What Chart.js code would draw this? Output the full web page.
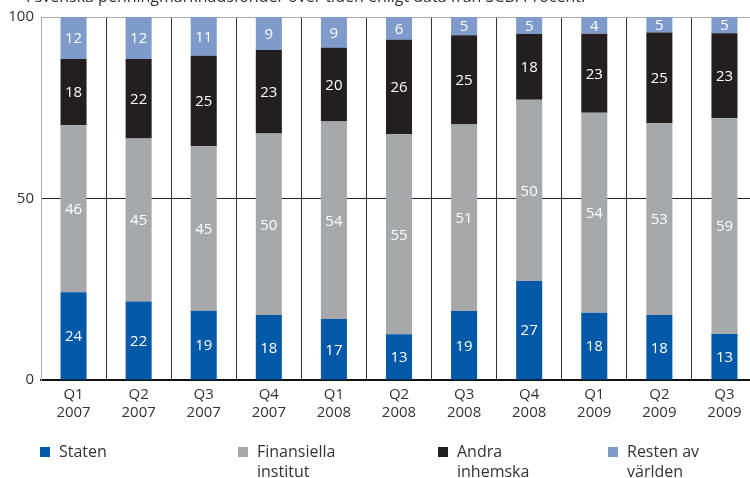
<!DOCTYPE html>
<html>
<head>
<meta charset="utf-8">
<script src="https://cdn.jsdelivr.net/npm/chart.js@4/dist/chart.umd.min.js"></script>
<style>
  html, body { margin: 0; padding: 0; background: #fff; }
  body { width: 750px; height: 478px; overflow: hidden; position: relative; font-family: "Open Sans", sans-serif; color: #333; }
  #wrap { position: absolute; left: 0; top: 0; width: 770px; height: 478px; }
  #title { position: absolute; left: 26px; top: -13px; font-size: 16px; line-height: 18px; white-space: nowrap; color: #333; }
  .leg { position: absolute; top: 441px; font-size: 16px; line-height: 20px; color: #333; }
  .leg i { position: absolute; left: -19px; top: 6px; width: 10px; height: 10px; }
</style>
</head>
<body>
<div id="wrap"><canvas id="c" width="770" height="478"></canvas></div>
<div id="title">I svenska penningmarknadsfonder över tiden enligt data från SCB. Procent.</div>
<div id="legend"></div>
<script>
const categories = [["Q1","2007"],["Q2","2007"],["Q3","2007"],["Q4","2007"],["Q1","2008"],["Q2","2008"],["Q3","2008"],["Q4","2008"],["Q1","2009"],["Q2","2009"],["Q3","2009"]];
const seriesNames = [["Staten"],["Finansiella","institut"],["Andra","inhemska"],["Resten av","världen"]];
// bar heights
const staten      = [24.2, 21.6, 19.1, 17.9, 16.8, 12.6, 19.0, 27.3, 18.5, 17.9, 12.7];
const finansiella = [46.0, 44.9, 45.3, 50.0, 54.4, 55.1, 51.4, 49.9, 55.1, 52.8, 59.4];
const andra       = [18.2, 21.9, 24.9, 23.0, 20.3, 26.0, 24.6, 18.1, 21.8, 25.0, 23.4];
const resten      = [11.6, 11.6, 10.7,  9.1,  8.5,  6.3,  5.0,  4.7,  4.6,  4.3,  4.5];
// printed labels
const statenLabels      = [24, 22, 19, 18, 17, 13, 19, 27, 18, 18, 13];
const finansiellaLabels = [46, 45, 45, 50, 54, 55, 51, 50, 54, 53, 59];
const andraLabels       = [18, 22, 25, 23, 20, 26, 25, 18, 23, 25, 23];
const restenLabels      = [12, 12, 11,  9,  9,  6,  5,  5,  4,  5,  5];
const yTicks = [0, 50, 100];

const colors = ["#0159A8", "#A7A8AC", "#231F20", "#7E9BCC"];
const values = [staten, finansiella, andra, resten];
const labels = [statenLabels, finansiellaLabels, andraLabels, restenLabels];

const dataLabelPlugin = {
  id: 'segLabels',
  afterDatasetsDraw(chart) {
    const ctx = chart.ctx;
    ctx.save();
    ctx.fillStyle = '#fff';
    ctx.font = '15px "Open Sans", sans-serif';
    ctx.textAlign = 'center';
    ctx.textBaseline = 'middle';
    chart.data.datasets.forEach((ds, di) => {
      const meta = chart.getDatasetMeta(di);
      meta.data.forEach((el, i) => {
        const top = Math.max(el.y, chart.chartArea.top);
        const y = (top + el.base) / 2;
        ctx.fillText(String(ds.segLabels[i]), el.x, y + 1);
      });
    });
    ctx.restore();
  }
};

new Chart(document.getElementById('c'), {
  type: 'bar',
  data: {
    labels: categories,
    datasets: values.map((v, i) => ({
      label: seriesNames[i].join(' '),
      data: v,
      segLabels: labels[i],
      backgroundColor: colors[i],
      borderWidth: 0,
      categoryPercentage: 1,
      barPercentage: 0.4
    }))
  },
  options: {
    responsive: false,
    animation: false,
    devicePixelRatio: 1,
    layout: { padding: { top: 17, right: 13, left: 0, bottom: 0 } },
    plugins: { legend: { display: false }, tooltip: { enabled: false }, title: { display: false } },
    scales: {
      x: {
        stacked: true,
        grid: {
          offset: true,
          drawTicks: false,
          color: (c) => c.index === 0 ? '#AAAAAA' : '#333333',
          lineWidth: 1
        },
        border: { display: true, color: '#111', width: 2 },
        ticks: { color: '#333', font: { size: 15, family: '"Open Sans", sans-serif', lineHeight: 1.2 }, padding: 6, maxRotation: 0 },
        afterFit: (s) => { s.height = 98; }
      },
      y: {
        stacked: true,
        min: 0, max: 100,
        afterBuildTicks: (s) => { s.ticks = yTicks.map(v => ({ value: v })); },
        grid: {
          drawTicks: false,
          color: (c) => c.tick && c.tick.value === 50 ? '#222222' : (c.tick && c.tick.value === 100 ? '#AAAAAA' : 'rgba(0,0,0,0)'),
          lineWidth: 1
        },
        border: { display: true, color: '#AAAAAA', width: 1 },
        ticks: { color: '#333', font: { size: 15, family: '"Open Sans", sans-serif' }, padding: 7 },
        afterFit: (s) => { s.width = 41; }
      }
    }
  },
  plugins: [dataLabelPlugin]
});

// HTML legend built from series names/colours
const legendX = [59, 257, 457, 627];
const legend = document.getElementById('legend');
seriesNames.forEach((lines, i) => {
  const d = document.createElement('div');
  d.className = 'leg';
  d.style.left = legendX[i] + 'px';
  const sq = document.createElement('i');
  sq.style.background = colors[i];
  d.appendChild(sq);
  lines.forEach((t, k) => {
    if (k) d.appendChild(document.createElement('br'));
    d.appendChild(document.createTextNode(t));
  });
  legend.appendChild(d);
});
</script>
</body>
</html>
